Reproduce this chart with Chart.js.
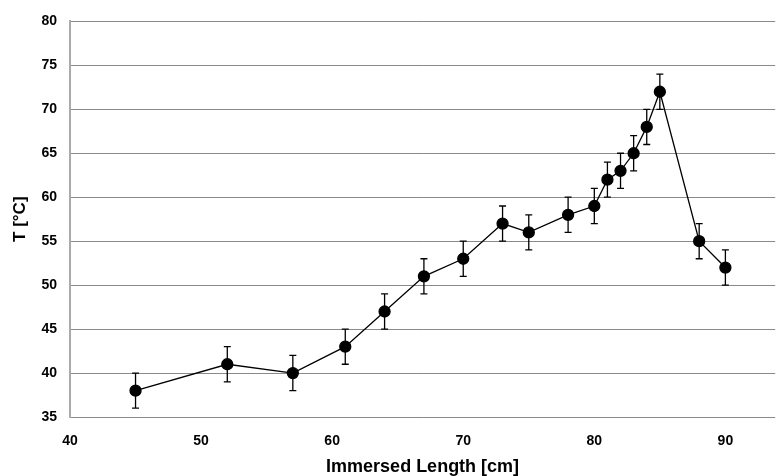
<!DOCTYPE html>
<html>
<head>
<meta charset="utf-8">
<script src="https://cdn.jsdelivr.net/npm/chart.js@4"></script>
<style>
  html, body { margin: 0; padding: 0; background: #fff; }
  #wrap { width: 782px; height: 476px; }
</style>
</head>
<body>
<div id="wrap"><canvas id="tempChart"></canvas></div>
<script>
// data
const lengths = [45, 52, 57, 61, 64, 67, 70, 73, 75, 78, 80, 81, 82, 83, 84, 85, 88, 90];
const temps = [38, 41, 40, 43, 47, 51, 53, 57, 56, 58, 59, 62, 63, 65, 68, 72, 55, 52];
const errors = [2, 2, 2, 2, 2, 2, 2, 2, 2, 2, 2, 2, 2, 2, 2, 2, 2, 2];
const xTicks = [40, 50, 60, 70, 80, 90];
const yTicks = [35, 40, 45, 50, 55, 60, 65, 70, 75, 80];

// error bars with caps
const errorBars = {
  id: "errorBars",
  beforeDatasetsDraw(chart) {
    const { ctx, scales: { x, y } } = chart;
    ctx.save();
    ctx.strokeStyle = "#000";
    ctx.lineWidth = 1.3;
    lengths.forEach((l, i) => {
      const px = x.getPixelForValue(l);
      const top = y.getPixelForValue(temps[i] + errors[i]);
      const bot = y.getPixelForValue(temps[i] - errors[i]);
      ctx.beginPath();
      ctx.moveTo(px, top); ctx.lineTo(px, bot);
      ctx.moveTo(px - 3.5, top); ctx.lineTo(px + 3.5, top);
      ctx.moveTo(px - 3.5, bot); ctx.lineTo(px + 3.5, bot);
      ctx.stroke();
    });
    ctx.restore();
  }
};

const ctx = document.getElementById("tempChart").getContext("2d");
new Chart(ctx, {
  type: "line",
  data: {
    datasets: [{
      data: lengths.map((l, i) => ({ x: l, y: temps[i] })),
      borderColor: "#000",
      borderWidth: 1.3,
      pointRadius: 5.5,
      pointBackgroundColor: "#000",
      pointBorderColor: "#000",
      tension: 0
    }]
  },
  plugins: [errorBars],
  options: {
    responsive: true,
    maintainAspectRatio: false,
    animation: false,
    layout: { padding: { top: 16, right: 0, left: 0, bottom: 0 } },
    plugins: { legend: { display: false }, tooltip: { enabled: false } },
    scales: {
      x: {
        type: "linear",
        min: 40,
        max: 93.8,
        afterBuildTicks: (s) => { s.ticks = xTicks.map(v => ({ value: v })); },
        afterFit: (s) => { s.height = 59; },
        grid: { display: false, drawTicks: false },
        border: { display: false },
        ticks: {
          color: "#000",
          padding: 16,
          font: { family: "Liberation Sans, Arial", size: 14, weight: "bold" }
        },
        title: {
          display: true,
          text: "Immersed Length [cm]",
          color: "#000",
          padding: { top: 4, bottom: -2 },
          font: { family: "Liberation Sans, Arial", size: 18, weight: "bold" }
        }
      },
      y: {
        min: 35,
        max: 80,
        afterBuildTicks: (s) => { s.ticks = yTicks.map(v => ({ value: v })); },
        afterFit: (s) => { s.width = 70; },
        grid: { color: "#8a8a8a", lineWidth: 1, drawTicks: false },
        border: { display: true, color: "#aaa", width: 2 },
        ticks: {
          color: "#000",
          padding: 13,
          font: { family: "Liberation Sans, Arial", size: 14, weight: "bold" }
        },
        title: {
          display: true,
          text: "T [°C]",
          color: "#000",
          padding: { top: 10, bottom: 0 },
          font: { family: "Liberation Sans, Arial", size: 17, weight: "bold" }
        }
      }
    }
  }
});
</script>
</body>
</html>
